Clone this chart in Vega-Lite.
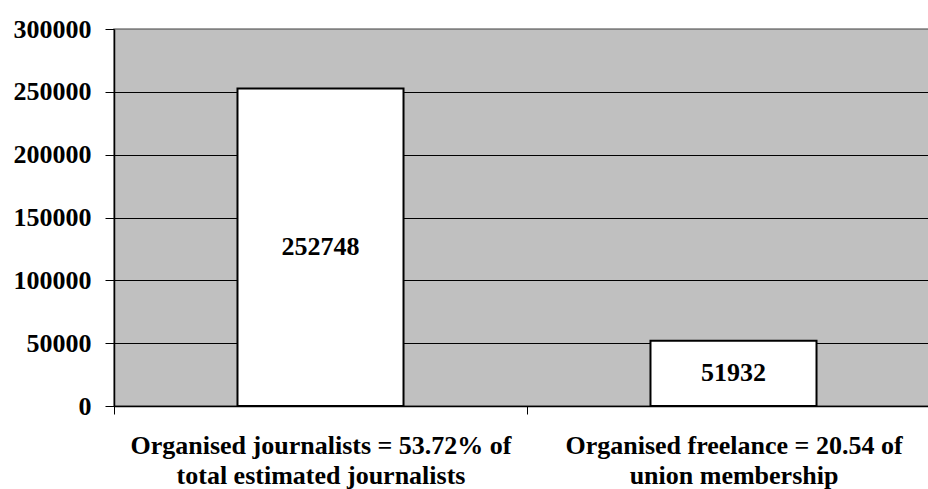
{
  "$schema": "https://vega.github.io/schema/vega-lite/v6.json",
  "width": 826,
  "height": 377,
  "autosize": {"type": "none"},
  "padding": {"left": 114, "top": 29, "right": 0, "bottom": 83},
  "background": "white",
  "config": {
    "view": {"fill": "#c0c0c0", "stroke": "#808080", "strokeWidth": 1.5},
    "font": "Liberation Serif"
  },
  "data": {
    "values": [
      {"category": "Organised journalists = 53.72% of|total estimated journalists", "value": 252748},
      {"category": "Organised freelance = 20.54 of|union membership", "value": 51932}
    ]
  },
  "encoding": {
    "x": {
      "field": "category",
      "type": "nominal",
      "sort": null,
      "scale": {"paddingInner": 0, "paddingOuter": 0},
      "axis": {
        "title": null,
        "labelAngle": 0,
        "labelExpr": "isValid(datum.value) ? split(datum.value, '|') : ''",
        "labelFont": "Liberation Serif",
        "labelFontWeight": "bold",
        "labelFontSize": 26,
        "labelColor": "black",
        "labelBaseline": "alphabetic",
        "labelLineHeight": 30,
        "labelPadding": 39,
        "labelLimit": 0,
        "tickBand": "extent",
        "tickSize": 8,
        "tickColor": "black",
        "domainColor": "black",
        "domainWidth": 1.5,
        "grid": false
      }
    }
  },
  "layer": [
    {
      "mark": {"type": "bar", "fill": "white", "stroke": "black", "strokeWidth": 2, "width": {"band": 0.402}},
      "encoding": {
        "y": {
          "field": "value",
          "type": "quantitative",
          "scale": {"domain": [0, 300000], "nice": false},
          "axis": {
            "title": null,
            "values": [0, 50000, 100000, 150000, 200000, 250000, 300000],
            "format": "d",
            "labelFont": "Liberation Serif",
            "labelFontWeight": "bold",
            "labelFontSize": 26,
            "labelColor": "black",
            "labelPadding": 14,
            "tickSize": 9,
            "tickColor": "black",
            "domainColor": "black",
            "domainWidth": 1.5,
            "grid": true,
            "gridColor": {"condition": {"test": "datum.value == 300000", "value": "#808080"}, "value": "black"},
            "gridWidth": 1
          }
        }
      }
    },
    {
      "mark": {"type": "text", "font": "Liberation Serif", "fontWeight": "bold", "fontSize": 26, "color": "black", "baseline": "middle"},
      "encoding": {
        "y": {"field": "value", "type": "quantitative", "scale": {"domain": [0, 600000], "nice": false}, "axis": null},
        "text": {"field": "value", "type": "quantitative", "format": "d"}
      }
    }
  ],
  "resolve": {"scale": {"y": "independent"}}
}
